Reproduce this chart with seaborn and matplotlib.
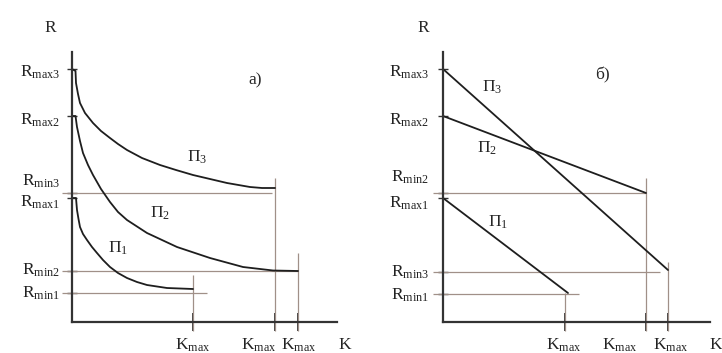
import matplotlib
matplotlib.use("Agg")
import matplotlib.pyplot as plt
import seaborn as sns

# уровни R на оси ординат
r_labels_a = ["max3", "max2", "min3", "max1", "min2", "min1"]
r_values_a = [25.3, 20.6, 12.9, 12.4, 5.1, 2.9]
r_labels_b = ["max3", "max2", "min2", "max1", "min3", "min1"]
r_values_b = [25.3, 20.6, 12.9, 12.4, 5.0, 2.8]

# значения K_max (П1, П3, П2 на рис. а; П1, П2, П3 на рис. б)
k_max_a = [12.1, 20.3, 22.6]
k_max_b = [12.2, 20.3, 22.5]

# рис. а) - гиперболические кривые
p1_k = [0.0, 0.4, 0.5, 0.65, 0.8, 1.1, 1.5, 2.0, 2.5, 3.1, 3.8, 4.6, 5.5, 6.5, 7.5, 9.5, 12.1]
p1_r = [12.4, 12.4, 11.2, 10.3, 9.5, 8.8, 8.2, 7.5, 6.9, 6.2, 5.5, 4.9, 4.4, 4.0, 3.7, 3.4, 3.3]
p2_k = [0.0, 0.35, 0.5, 0.8, 1.1, 1.6, 2.1, 2.9, 3.8, 4.6, 5.5, 7.5, 10.5, 13.8, 17.1, 20.1, 22.6]
p2_r = [20.6, 20.6, 19.5, 18.1, 16.9, 15.7, 14.7, 13.3, 12.0, 11.0, 10.2, 8.9, 7.5, 6.4, 5.5, 5.15, 5.1]
p3_k = [0.0, 0.35, 0.4, 0.6, 0.8, 1.3, 2.1, 2.9, 3.8, 4.6, 5.5, 7.0, 8.8, 10.4, 12.1,
        13.8, 15.5, 17.8, 19.0, 20.3]
p3_r = [25.3, 25.1, 23.9, 22.8, 21.9, 20.9, 19.9, 19.1, 18.4, 17.8, 17.2, 16.4, 15.7, 15.2, 14.7,
        14.3, 13.9, 13.5, 13.4, 13.4]

# рис. б) - прямые
q1_k = [0.0, 12.5]
q1_r = [12.4, 2.9]
q2_k = [0.0, 20.3]
q2_r = [20.6, 12.9]
q3_k = [0.0, 22.5]
q3_r = [25.3, 5.2]

sns.set_theme(style="white")
plt.rcParams["font.family"] = ["Liberation Serif", "DejaVu Serif"]
plt.rcParams["mathtext.fontset"] = "custom"
plt.rcParams["mathtext.rm"] = "Liberation Serif"
plt.rcParams["mathtext.it"] = "Liberation Serif:italic"

ink = "#1e1e1e"
thin = "#a09088"
fs = 12.5

fig = plt.figure(figsize=(7.22, 3.53), dpi=100)
ax_a = fig.add_axes([72 / 722, 31 / 353, 265 / 722, 270 / 353])
ax_b = fig.add_axes([443 / 722, 31 / 353, 267 / 722, 270 / 353])


def setup(ax, xmax, k_ticks, r_ticks):
    ax.set_xlim(0, xmax)
    ax.set_ylim(0, 27.0)
    for s in ["top", "right"]:
        ax.spines[s].set_visible(False)
    for s in ["left", "bottom"]:
        ax.spines[s].set_color("#333333")
        ax.spines[s].set_linewidth(1.6)
    ax.set_xticks(k_ticks, [""] * len(k_ticks))
    ax.set_yticks(r_ticks, [""] * len(r_ticks))
    ax.tick_params(axis="x", bottom=True, direction="inout", length=13, width=1.3,
                   color="#333333")
    ax.tick_params(axis="y", left=True, direction="inout", length=7, width=1.0,
                   color="#333333")
    ax.set_xlabel("")
    ax.set_ylabel("")


def draw(ax, k, r):
    sns.lineplot(x=k, y=r, ax=ax, sort=False, color=ink, linewidth=1.3,
                 estimator=None)


def ref_lines(ax, h_lines, v_lines):
    for y, x1 in h_lines:
        ax.hlines(y, -1.0, x1, color=thin, linewidth=0.9, clip_on=False, zorder=1)
    for x, y1 in v_lines:
        ax.vlines(x, -0.9, y1, color=thin, linewidth=0.9, clip_on=False, zorder=1)


def y_labels(ax, names, ys, dx):
    for name, y in zip(names, ys):
        ax.text(dx, y, r"R$_{\mathrm{%s}}$" % name, ha="right", va="center",
                fontsize=fs, clip_on=False, color="#222222")


def k_labels(ax, xs):
    for x in xs:
        ax.text(x, -2.3, r"K$_{\mathrm{max}}$", ha="center", va="center",
                fontsize=fs, clip_on=False, color="#222222")
    ax.text(27.3, -2.3, "K", ha="center", va="center", fontsize=fs,
            clip_on=False, color="#222222")


# ---------- рис. а)
setup(ax_a, 26.5, k_max_a, r_values_a)
ref_lines(ax_a,
          [(r_values_a[2], 20.0), (r_values_a[4], k_max_a[2]), (r_values_a[5], 13.5)],
          [(k_max_a[0], 4.7), (k_max_a[1], 14.4), (k_max_a[2], 6.9)])
draw(ax_a, p1_k, p1_r)
draw(ax_a, p2_k, p2_r)
draw(ax_a, p3_k, p3_r)
y_labels(ax_a, r_labels_a, [25.0, 20.2, 14.1, 12.0, 5.2, 2.9], -1.2)
k_labels(ax_a, [12.1, 18.7, 22.7])
ax_a.text(-2.2, 29.4, "R", ha="center", va="center", fontsize=fs, clip_on=False)
ax_a.text(18.3, 24.2, "а)", ha="center", va="center", fontsize=fs)
ax_a.text(12.5, 16.5, "П$_3$", ha="center", va="center", fontsize=fs)
ax_a.text(8.8, 10.9, "П$_2$", ha="center", va="center", fontsize=fs)
ax_a.text(4.6, 7.4, "П$_1$", ha="center", va="center", fontsize=fs)

# ---------- рис. б)
setup(ax_b, 26.7, k_max_b, r_values_b)
ref_lines(ax_b,
          [(r_values_b[2], k_max_b[1]), (r_values_b[4], 21.7), (r_values_b[5], 13.6)],
          [(k_max_b[0], 2.9), (k_max_b[1], 14.4), (k_max_b[2], 6.0)])
draw(ax_b, q1_k, q1_r)
draw(ax_b, q2_k, q2_r)
draw(ax_b, q3_k, q3_r)
y_labels(ax_b, r_labels_b, [25.0, 20.2, 14.5, 11.9, 5.0, 2.7], -1.4)
k_labels(ax_b, [12.1, 17.7, 22.8])
ax_b.text(-2.0, 29.4, "R", ha="center", va="center", fontsize=fs, clip_on=False)
ax_b.text(15.9, 24.7, "б)", ha="center", va="center", fontsize=fs)
ax_b.text(4.9, 23.5, "П$_3$", ha="center", va="center", fontsize=fs)
ax_b.text(4.4, 17.4, "П$_2$", ha="center", va="center", fontsize=fs)
ax_b.text(5.5, 10.0, "П$_1$", ha="center", va="center", fontsize=fs)

fig.savefig("out.png", dpi=100)
